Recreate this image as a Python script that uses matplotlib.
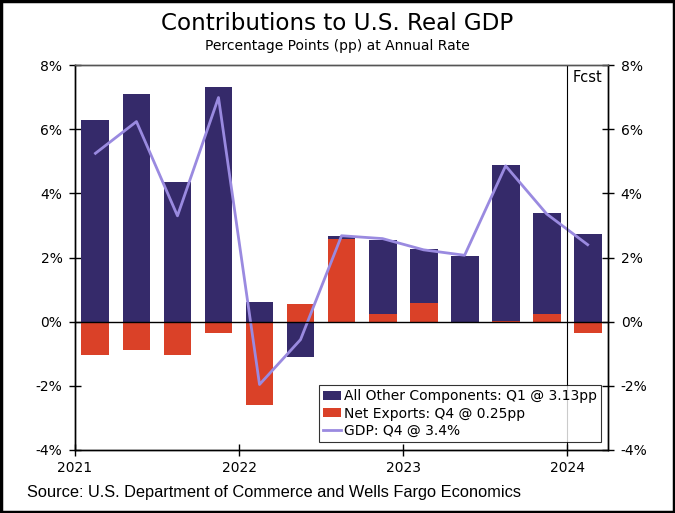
import numpy as np
import matplotlib
matplotlib.use("Agg")
from matplotlib import pyplot as plt
from matplotlib.patches import Rectangle

# quarters 2021Q1 .. 2024Q1
quarters = ["2021Q1", "2021Q2", "2021Q3", "2021Q4",
            "2022Q1", "2022Q2", "2022Q3", "2022Q4",
            "2023Q1", "2023Q2", "2023Q3", "2023Q4", "2024Q1"]
other = [6.29, 7.10, 4.34, 7.31, 0.60, -1.09, 0.10, 2.30, 1.68, 2.06, 4.86, 3.13, 2.72]
net_exports = [-1.04, -0.87, -1.03, -0.34, -2.59, 0.55, 2.58, 0.25, 0.58, 0.0, 0.02, 0.25, -0.35]
gdp = [5.25, 6.24, 3.30, 6.99, -1.96, -0.56, 2.68, 2.59, 2.24, 2.07, 4.86, 3.36, 2.40]
year_labels = ["2021", "2022", "2023", "2024"]
y_ticks = [-4, -2, 0, 2, 4, 6, 8]

navy = "#352A6A"
red = "#DA4128"
lavender = "#9A8AE0"

fig = plt.figure(figsize=(6.75, 5.13), dpi=100)
ax = fig.add_axes([0.111, 0.123, 0.79, 0.750])

x = np.arange(len(quarters)) + 0.5
ne = np.array(net_exports)
ot = np.array(other)
# other sits on top of net exports when both have the same sign
other_bottom = np.where(np.sign(ot) == np.sign(ne), ne, 0.0)

w = 0.68
b_ne = ax.bar(x, ne, width=w, color=red, zorder=2)
b_ot = ax.bar(x, ot, width=w, bottom=other_bottom, color=navy, zorder=2)
ln, = ax.plot(x, gdp, color=lavender, lw=2, zorder=3)

ax.axhline(0, color="black", lw=1, zorder=4)
ax.axvline(12, color="black", lw=0.8, zorder=4)
ax.text(12.5, 7.6, "Fcst", ha="center", va="center", fontsize=10.5)

ax.set_xlim(0, 13)
ax.set_ylim(-4, 8)
ax.set_xticks([0, 4, 8, 12])
ax.set_xticklabels(year_labels, fontsize=10)
ax.set_yticks(y_ticks)
ax.set_yticklabels([f"{t}%" for t in y_ticks], fontsize=10)
ax.tick_params(axis="both", direction="inout", length=8, width=1)
ax.tick_params(axis="x", pad=4)
ax.tick_params(axis="y", pad=5)

ax2 = ax.twinx()
ax2.set_ylim(-4, 8)
ax2.set_yticks(y_ticks)
ax2.set_yticklabels([f"{t}%" for t in y_ticks], fontsize=10)
ax2.tick_params(axis="y", direction="inout", length=8, width=1, pad=5)

for a in (ax, ax2):
    for side in ("left", "right", "bottom"):
        a.spines[side].set_color("black")
        a.spines[side].set_linewidth(1)
    a.spines["top"].set_color("#555555")
    a.spines["top"].set_linewidth(1)

leg = ax.legend([b_ot, b_ne, ln],
                ["All Other Components: Q1 @ 3.13pp",
                 "Net Exports: Q4 @ 0.25pp",
                 "GDP: Q4 @ 3.4%"],
                loc="lower right", bbox_to_anchor=(0.986, 0.02),
                fontsize=10, frameon=True, fancybox=False,
                handlelength=1.3, handleheight=0.6, handletextpad=0.2,
                borderpad=0.3, labelspacing=0.25, borderaxespad=0)
leg.get_frame().set_edgecolor("black")
leg.get_frame().set_linewidth(0.8)
leg.set_zorder(5)

fig.text(0.5, 0.955, "Contributions to U.S. Real GDP", ha="center",
         va="center", fontsize=16.6)
fig.text(0.5, 0.91, "Percentage Points (pp) at Annual Rate", ha="center",
         va="center", fontsize=10)
fig.text(0.04, 0.04, "Source: U.S. Department of Commerce and Wells Fargo Economics",
         ha="left", va="center", fontsize=11.8, family="Liberation Sans")

fig.patches.append(Rectangle((0.002, 0.002), 0.996, 0.996, transform=fig.transFigure,
                             fill=False, edgecolor="black", lw=2.5))

fig.savefig("out.png", dpi=100)
